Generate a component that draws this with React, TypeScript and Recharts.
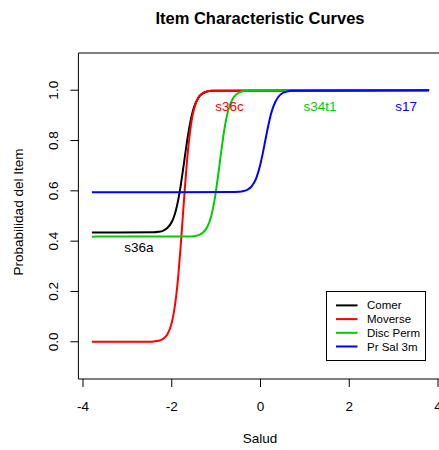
import React from "react";
import {
  ComposedChart,
  Line,
  Scatter,
  XAxis,
  YAxis,
  ReferenceArea,
  Legend,
} from "recharts";

// curves (theta, probability)
const comerX = [-3.8, -2.4, -2.3, -2.2, -2.1, -2.0, -1.95, -1.9, -1.85, -1.8, -1.75, -1.7, -1.65, -1.6, -1.5, -1.4, -1.3, -1.2, -1.1, 3.8];
const comerY = [0.434, 0.435, 0.437, 0.441, 0.452, 0.476, 0.497, 0.527, 0.568, 0.619, 0.679, 0.742, 0.803, 0.856, 0.932, 0.97, 0.987, 0.995, 0.998, 1.0];

const moverseX = [-3.8, -2.5, -2.4, -2.3, -2.2, -2.1, -2.0, -1.95, -1.9, -1.85, -1.8, -1.75, -1.7, -1.65, -1.6, -1.55, -1.5, -1.4, -1.3, -1.2, -1.1, 3.8];
const moverseY = [0.0, 0.0005, 0.0015, 0.004, 0.011, 0.029, 0.076, 0.119, 0.182, 0.269, 0.378, 0.5, 0.622, 0.731, 0.818, 0.881, 0.924, 0.971, 0.989, 0.996, 0.998, 1.0];

const discX = [-3.8, -1.6, -1.5, -1.4, -1.3, -1.2, -1.15, -1.1, -1.05, -1.0, -0.95, -0.9, -0.85, -0.8, -0.7, -0.6, -0.5, -0.4, -0.3, 3.8];
const discY = [0.418, 0.419, 0.42, 0.424, 0.433, 0.456, 0.477, 0.507, 0.549, 0.604, 0.668, 0.736, 0.802, 0.859, 0.936, 0.973, 0.989, 0.996, 0.998, 1.0];

const salX = [-3.8, -0.6, -0.5, -0.4, -0.3, -0.2, -0.1, -0.05, 0.0, 0.05, 0.1, 0.15, 0.2, 0.25, 0.3, 0.4, 0.5, 0.6, 0.7, 3.8];
const salY = [0.594, 0.595, 0.596, 0.598, 0.604, 0.618, 0.649, 0.675, 0.708, 0.748, 0.793, 0.838, 0.879, 0.914, 0.94, 0.973, 0.989, 0.995, 0.998, 1.0];

const seriesNames = ["Comer", "Moverse", "Disc Perm", "Pr Sal 3m"];
const seriesColors = ["#000000", "#FF0000", "#00CD00", "#0000FF"];

const itemLabels = ["s36a", "s36c", "s34t1", "s17"];
const itemLabelX = [-2.74, -0.7, 1.34, 3.28];
const itemLabelY = [0.373, 0.934, 0.934, 0.934];

const xTicks = [-4, -2, 0, 2, 4];
const yTicks = [0, 0.2, 0.4, 0.6, 0.8, 1.0];

const FONT = '"Liberation Sans", Arial, Helvetica, sans-serif';

const toPts = (xs: number[], ys: number[]) => xs.map((x, i) => ({ x, y: ys[i] }));

const curves = [
  toPts(comerX, comerY),
  toPts(moverseX, moverseY),
  toPts(discX, discY),
  toPts(salX, salY),
];

const labelData = itemLabels.map((t, i) => ({
  x: itemLabelX[i],
  y: itemLabelY[i],
  text: t,
  color: seriesColors[i],
}));

const XTick = (p: any) => (
  <text x={p.x} y={p.y} textAnchor="middle" dominantBaseline="central" fontSize={13.5} fontFamily={FONT} fill="#000">
    {p.payload.value}
  </text>
);

const YTick = (p: any) => (
  <text
    x={p.x}
    y={p.y}
    transform={`rotate(-90 ${p.x} ${p.y})`}
    textAnchor="middle"
    dominantBaseline="central"
    fontSize={13.5}
    fontFamily={FONT}
    fill="#000"
  >
    {Number(p.payload.value).toFixed(1)}
  </text>
);

const LabelShape = (p: any) => (
  <text
    x={p.cx}
    y={p.cy}
    textAnchor="middle"
    dominantBaseline="central"
    fontSize={13.5}
    fontFamily={FONT}
    fill={p.payload.color}
  >
    {p.payload.text}
  </text>
);

const LegendBox = () => (
  <svg width={100} height={70} style={{ display: "block" }}>
    <rect x={0.5} y={0.5} width={99} height={69} fill="#fff" stroke="#000" strokeWidth={1} />
    {seriesNames.map((n, i) => (
      <g key={n}>
        <line x1={10} x2={31.5} y1={14.4 + i * 13.7} y2={14.4 + i * 13.7} stroke={seriesColors[i]} strokeWidth={2} />
        <text x={41} y={14.4 + i * 13.7} dominantBaseline="central" fontSize={11.5} fontFamily={FONT} fill="#000">
          {n}
        </text>
      </g>
    ))}
  </svg>
);

export default function App() {
  return (
    <div
      style={{
        position: "absolute",
        left: 0,
        top: 0,
        width: 439,
        height: 450,
        overflow: "hidden",
        background: "#fff",
        fontFamily: FONT,
      }}
    >
      <div
        style={{
          position: "absolute",
          left: 60,
          width: 400,
          top: 8,
          textAlign: "center",
          fontWeight: "bold",
          fontSize: 16.5,
          lineHeight: "20px",
        }}
      >
        Item Characteristic Curves
      </div>
      <div
        style={{
          position: "absolute",
          left: 60,
          width: 400,
          top: 431,
          textAlign: "center",
          fontSize: 13.5,
          lineHeight: "16px",
        }}
      >
        Salud
      </div>
      <div
        style={{
          position: "absolute",
          left: 19,
          top: 212,
          transform: "translate(-50%, -50%) rotate(-90deg)",
          fontSize: 13.5,
          lineHeight: "16px",
          whiteSpace: "nowrap",
        }}
      >
        Probabilidad del Item
      </div>
      <ComposedChart
        width={460}
        height={450}
        margin={{ top: 53, right: 17.4, bottom: 70, left: 77.4 }}
        style={{ position: "absolute", left: 0, top: 0 }}
      >
        <XAxis
          type="number"
          dataKey="x"
          domain={[-4.104, 4.104]}
          ticks={xTicks}
          allowDataOverflow
          height={1}
          axisLine={false}
          tickLine={{ stroke: "#000" }}
          tickSize={8}
          tickMargin={19}
          tick={<XTick />}
          interval={0}
        />
        <YAxis
          type="number"
          dataKey="y"
          domain={[-0.148, 1.148]}
          ticks={yTicks}
          allowDataOverflow
          width={1}
          axisLine={false}
          tickLine={{ stroke: "#000" }}
          tickSize={8}
          tickMargin={17}
          tick={<YTick />}
          interval={0}
        />
        <ReferenceArea
          x1={-4.104}
          x2={4.104}
          y1={-0.148}
          y2={1.148}
          fill="none"
          stroke="#000"
          strokeWidth={1}
          ifOverflow="visible"
        />
        {curves.map((d, i) => (
          <Line
            key={seriesNames[i]}
            data={d}
            dataKey="y"
            name={seriesNames[i]}
            type="monotone"
            stroke={seriesColors[i]}
            strokeWidth={2}
            dot={false}
            activeDot={false}
            isAnimationActive={false}
          />
        ))}
        <Scatter data={labelData} dataKey="y" shape={<LabelShape />} isAnimationActive={false} />
        <Legend
          layout="vertical"
          align="center"
          verticalAlign="middle"
          content={<LegendBox />}
          wrapperStyle={{ left: 326, top: 291, width: 100, height: 70 }}
        />
      </ComposedChart>
    </div>
  );
}
